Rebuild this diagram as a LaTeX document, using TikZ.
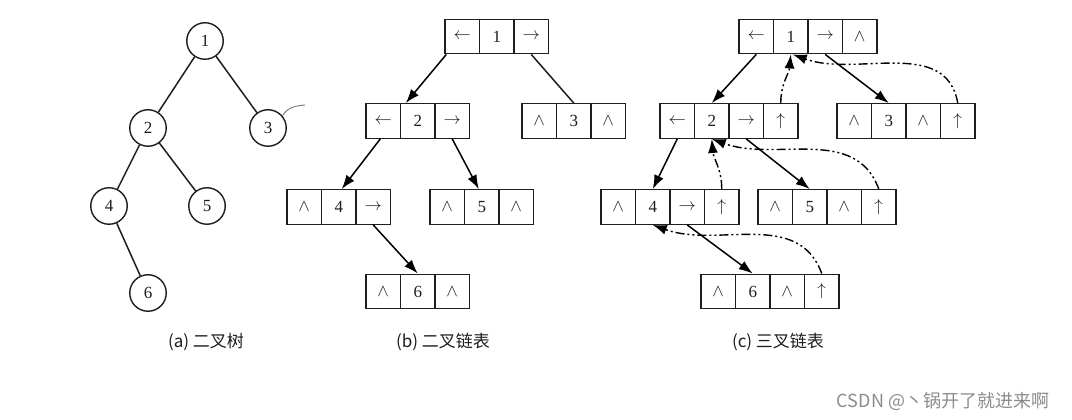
\documentclass[tikz,border=0pt]{standalone}
\usepackage{fontspec}
\setmainfont{Liberation Serif}
\newfontfamily\cjk{Noto Sans CJK SC}
\usetikzlibrary{arrows.meta,calc}
\definecolor{wm}{RGB}{140,140,140}
\definecolor{ink}{RGB}{30,30,30}
\newcommand\La{$\leftarrow$}
\newcommand\Ra{$\rightarrow$}
\newcommand\Nl{$\wedge$}
\newcommand\Up{$\uparrow$}
\newcommand\mkrow[4]{\foreach \t [count=\i] in {#4} {\node[cell] (#1-\i) at ({#2+(\i-0.5)*34.5},#3) {\t};}}
\begin{document}
\begin{tikzpicture}[x=1pt,y=1pt,
  cell/.style={draw=ink,line width=1.4pt,minimum width=34.5pt,minimum height=34.5pt,inner sep=0pt,text=ink,font=\fontsize{17}{17}\selectfont},
  circnode/.style={draw=ink,circle,line width=1.4pt,minimum size=36.5pt,inner sep=0pt,text=ink,font=\fontsize{17}{17}\selectfont},
  edge/.style={draw=ink,line width=1.5pt},
  child/.style={draw=black,line width=1.5pt,-{Latex[length=14pt,width=10pt]}},
  parent/.style={draw=black,line width=1.4pt,dash pattern=on 9pt off 3pt on 2pt off 3pt on 2pt off 3pt,-{Latex[length=14pt,width=10pt]}},
  caption/.style={font=\cjk\fontsize{17}{17}\selectfont,text=ink}]
\useasboundingbox (0,0) rectangle (1072,420);
\fill[white] (0,0) rectangle (1072,420);
% (a) binary tree
\node[circnode] (a1) at (205,379) {1};
\node[circnode] (a2) at (148,292) {2};
\node[circnode] (a3) at (268,292) {3};
\node[circnode] (a4) at (109,214) {4};
\node[circnode] (a5) at (207,214) {5};
\node[circnode] (a6) at (148,127) {6};
\draw[edge] (a1) -- (a2);
\draw[edge] (a1) -- (a3);
\draw[edge] (a2) -- (a4);
\draw[edge] (a2) -- (a5);
\draw[edge] (a4) -- (a6);
\coordinate (sq) at (305,315);
\draw[gray,line width=1pt] (a3.40) to[out=60,in=185] (sq);
% (b) binary linked list
\mkrow{B1}{445}{383.5}{\La,1,\Ra}
\mkrow{B2}{366}{299}{\La,2,\Ra}
\mkrow{B3}{522}{299}{\Nl,3,\Nl}
\mkrow{B4}{287}{213}{\Nl,4,\Ra}
\mkrow{B5}{430}{213}{\Nl,5,\Nl}
\mkrow{B6}{366}{128.5}{\Nl,6,\Nl}
\draw[child] ([xshift=2pt]B1-1.south west) -- ([xshift=6pt]B2-2.north west);
\draw[edge] (B1-3.south) -- (B3-2.north);
\draw[child] ([xshift=-3pt]B2-1.south) -- ([xshift=3pt]B4-2.north);
\draw[child] (B2-3.south) -- ([xshift=-3pt]B5-2.north);
\draw[child] (B4-3.south) -- (B6-2.north);
% (c) trinary linked list
\mkrow{C1}{739}{383.5}{\La,1,\Ra,\Nl}
\mkrow{C2}{660}{299}{\La,2,\Ra,\Up}
\mkrow{C3}{837}{299}{\Nl,3,\Nl,\Up}
\mkrow{C4}{601}{213}{\Nl,4,\Ra,\Up}
\mkrow{C5}{758}{213}{\Nl,5,\Nl,\Up}
\mkrow{C6}{701}{128.5}{\Nl,6,\Nl,\Up}
\draw[child] (C1-1.south) -- (C2-2.north);
\draw[child] (C1-3.south) -- (C3-2.north);
\draw[child] (C2-1.south) -- (C4-2.north);
\draw[child] (C2-3.south) -- (C5-2.north);
\draw[child] (C4-3.south) -- (C6-2.north);
\draw[parent] (C2-4.north) to[out=90,in=-95] (C1-2.south);
\draw[parent] (C3-4.north) to[out=100,in=-20] ([xshift=2pt]C1-2.south);
\draw[parent] (C4-4.north) to[out=90,in=-85] (C2-2.south);
\draw[parent] (C5-4.north) to[out=110,in=-20] (C2-2.south);
\draw[parent] (C6-4.north) to[out=110,in=-20] (C4-2.south);
% captions
\node[caption] (capa) at (206,78) {(a) 二叉树};
\node[caption] (capb) at (443,78) {(b) 二叉链表};
\node[caption] (capc) at (778,78) {(c) 三叉链表};
\node[font=\cjk\fontsize{18}{18}\selectfont,text=wm] (wmk) at (943,19) {CSDN @丶锅开了就进来啊};
\end{tikzpicture}
\end{document}
